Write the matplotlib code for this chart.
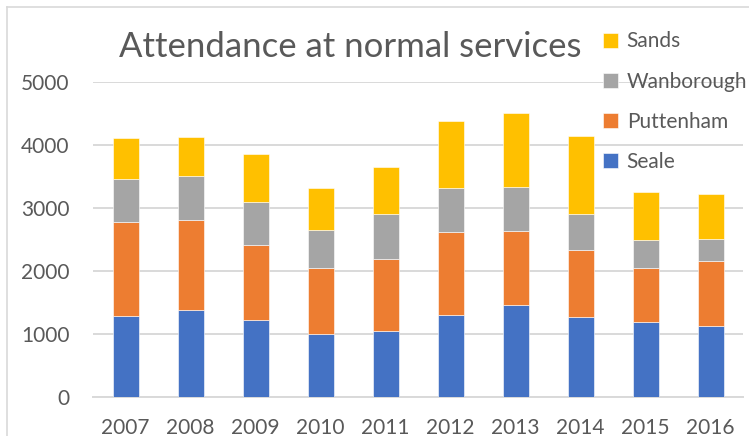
import matplotlib.pyplot as plt
import numpy as np
from matplotlib.lines import Line2D

years = ['2007', '2008', '2009', '2010', '2011', '2012', '2013', '2014', '2015', '2016']
seale = [1294, 1378, 1220, 998, 1051, 1304, 1462, 1272, 1193, 1125]
puttenham = [1478, 1436, 1188, 1045, 1135, 1310, 1173, 1056, 850, 1035]
wanborough = [686, 686, 681, 613, 713, 707, 697, 581, 444, 353]
sands = [650, 624, 771, 665, 749, 1056, 1172, 1225, 771, 713]

series = [('Seale', seale, '#4472C4'),
          ('Puttenham', puttenham, '#ED7D31'),
          ('Wanborough', wanborough, '#A5A5A5'),
          ('Sands', sands, '#FFC000')]

plt.rcParams['font.family'] = ['Lato', 'DejaVu Sans']
txt = '#595959'

fig = plt.figure(figsize=(7.49, 4.36), dpi=100)
ax = fig.add_axes([93 / 749, 38.7 / 436, 650 / 749, (397.3 - 81.7) / 436])

x = np.arange(len(years))
bottom = np.zeros(len(years))
handles = []
for name, vals, col in series:
    b = ax.bar(x, vals, 0.4, bottom=bottom, color=col, edgecolor='white',
               linewidth=0.4, label=name, zorder=3)
    bottom += np.array(vals)
    handles.append(b)

ax.set_xlim(-0.5, len(years) - 0.5)
ax.set_ylim(0, 5000)
ax.set_yticks(range(0, 5001, 1000))
ax.set_xticks(x)
ax.set_xticklabels(years)
ax.grid(axis='y', color='#d9d9d9', linewidth=1.4, zorder=0)
for s in ['top', 'right', 'left']:
    ax.spines[s].set_visible(False)
ax.spines['bottom'].set_color('#d9d9d9')
ax.spines['bottom'].set_linewidth(1.4)
ax.tick_params(length=0, labelsize=15, colors=txt)
ax.tick_params(axis='y', pad=17)
ax.tick_params(axis='x', pad=15)

fig.text(350 / 749, 1 - 47 / 436, 'Attendance at normal services', ha='center',
         va='center', fontsize=25, color=txt)

leg = fig.legend(handles[::-1], [s[0] for s in series][::-1], loc='upper left',
                 bbox_to_anchor=(593 / 749, 1 - 21 / 436), frameon=False,
                 fontsize=15, labelcolor=txt, handlelength=0.72, handleheight=0.72,
                 handletextpad=0.4, labelspacing=0.97, borderpad=0)

# chart border remnants
fig.add_artist(Line2D([7 / 749, 1], [1 - 7 / 436] * 2, color='#d9d9d9', lw=1.2))
fig.add_artist(Line2D([7 / 749] * 2, [0, 1 - 7 / 436], color='#d9d9d9', lw=1.2))

fig.savefig('out.png', dpi=100)
plt.close()
